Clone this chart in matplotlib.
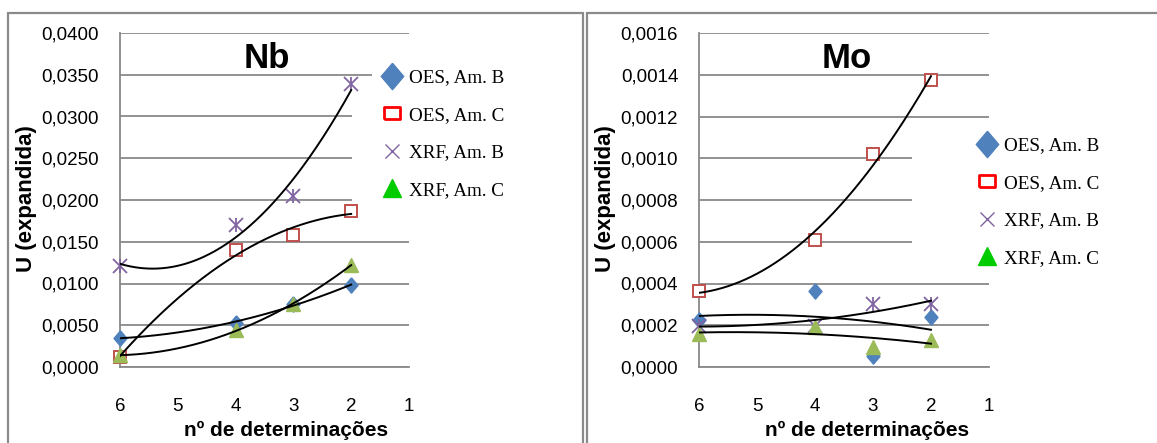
import numpy as np
import matplotlib
matplotlib.use("Agg")
import matplotlib.pyplot as plt
from matplotlib.lines import Line2D
from matplotlib.patches import Rectangle
from matplotlib.ticker import FuncFormatter, MultipleLocator

# ---------------- data ----------------
n_det = [6, 4, 3, 2]
series_names = ["OES, Am. B", "OES, Am. C", "XRF, Am. B", "XRF, Am. C"]

nb_oes_b = [0.00347, 0.00527, 0.00758, 0.00978]
nb_oes_c = [0.00120, 0.01405, 0.01580, 0.01868]
nb_xrf_b = [0.01210, 0.01705, 0.02048, 0.03393]
nb_xrf_c = [0.00140, 0.00440, 0.00750, 0.01225]

mo_oes_b = [0.000224, 0.000364, 0.000053, 0.000240]
mo_oes_c = [0.000362, 0.000610, 0.001020, 0.001373]
mo_xrf_b = [0.000198, 0.000198, 0.000300, 0.000304]
mo_xrf_c = [0.000160, 0.000190, 0.000096, 0.000128]

x_ticks = [6, 5, 4, 3, 2, 1]

# ---------------- style ----------------
W, H = 1157, 443
fig = plt.figure(figsize=(W / 100, H / 100), dpi=100)
SANS = "Liberation Sans"
SERIF = "Liberation Serif"
GRID = "#898989"

c_blue = "#4F81BD"
c_red = "#C0504D"
c_purple = "#8064A2"
c_green = "#9BBB59"

diamond = [(0, 1), (0.85, 0), (0, -1), (-0.85, 0), (0, 1)]
leg_square = [(-1, -0.7), (1, -0.7), (1, 0.7), (-1, 0.7), (-1, -0.7)]


def px_ax(x0, y0, x1, y1):
    return [x0 / W, 1 - y1 / H, (x1 - x0) / W, (y1 - y0) / H]


def fmt4(v, pos):
    return f"{v:.4f}".replace(".", ",")


def draw(ax, data, ymax, ystep, title, title_x, leg_x, leg_y, cover, xlab_x,
         ylab_x):
    ax.set_xlim(6, 1)
    ax.set_ylim(0, ymax)
    ax.yaxis.set_major_locator(MultipleLocator(ystep))
    ax.yaxis.set_major_formatter(FuncFormatter(fmt4))
    ax.set_xticks(x_ticks)
    ax.set_xticklabels([str(t) for t in x_ticks])
    ax.grid(axis="y", color=GRID, lw=1.3, zorder=0)
    ax.set_axisbelow(True)
    for s in ["top", "right"]:
        ax.spines[s].set_visible(False)
    for s in ["left", "bottom"]:
        ax.spines[s].set_color(GRID)
        ax.spines[s].set_linewidth(1.3)
    ax.tick_params(axis="both", length=0, labelsize=13.5)
    ax.tick_params(axis="y", pad=15)
    ax.tick_params(axis="x", pad=22)
    for lab in ax.get_xticklabels() + ax.get_yticklabels():
        lab.set_fontfamily(SANS)

    # white areas behind the legend (hide gridlines)
    for (x0, y0, w, h) in cover:
        ax.add_patch(Rectangle((x0, y0), w, h, transform=ax.transAxes,
                               facecolor="white", edgecolor="none", zorder=1,
                               clip_on=False))

    oes_b, oes_c, xrf_b, xrf_c = data
    xs = np.array(n_det, dtype=float)
    xf = np.linspace(6, 2, 200)
    for ys in (oes_b, oes_c, xrf_b, xrf_c):
        p = np.polyfit(xs, ys, 2)
        ax.plot(xf, np.polyval(p, xf), color="black", lw=1.4, zorder=4)

    kw = dict(linestyle="none", clip_on=False)
    ax.plot(n_det, oes_b, marker=diamond, ms=11, color=c_blue, mec=c_blue,
            zorder=3, **kw)
    ax.plot(n_det, oes_c, marker="s", ms=8.5, mfc="white", mec=c_red,
            mew=1.4, zorder=3, **kw)
    ax.plot(n_det, xrf_b, marker="x", ms=9.5, color=c_purple, mew=1.3,
            zorder=3, **kw)
    ax.plot(n_det, xrf_b, marker="|", ms=10.5, color=c_purple, mew=1.3,
            zorder=3, **kw)
    ax.plot(n_det, xrf_c, marker="^", ms=10, color=c_green, mec=c_green,
            zorder=3, **kw)

    handles = [
        Line2D([], [], linestyle="none", marker=diamond, ms=19, color=c_blue),
        Line2D([], [], linestyle="none", marker=leg_square, ms=12,
               mfc="white", mec="#FF0000", mew=2.0),
        Line2D([], [], linestyle="none", marker="x", ms=9.5, color=c_purple,
               mew=1.0),
        Line2D([], [], linestyle="none", marker="^", ms=13, color="#00CC00"),
    ]
    fig.legend(handles, series_names, loc="upper left",
               bbox_to_anchor=(leg_x / W, 1 - leg_y / H),
               frameon=False, handlelength=1.0, handletextpad=0.4,
               labelspacing=1.05, borderpad=0, borderaxespad=0,
               prop={"family": SERIF, "size": 13.8})

    fig.text(title_x / W, 1 - 58 / H, title, family=SANS, weight="bold",
             size=25, ha="center", va="center")
    fig.text(ylab_x / W, 1 - 199 / H, "U (expandida)", family=SANS,
             weight="bold", size=16, rotation=90, ha="center", va="center")
    fig.text(xlab_x / W, 1 - 430 / H, "nº de determinações", family=SANS,
             weight="bold", size=15, ha="center", va="center")


ax1 = fig.add_axes(px_ax(120, 33, 409, 367))
ax2 = fig.add_axes(px_ax(699, 33, 989, 367))

# cover rectangles in axes fractions (x0, y0, w, h)
nb_cover = [((352 - 120) / 289, (367 - 212) / 334, 0.3, (212 - 95) / 334),
            ((372 - 120) / 289, (367 - 95) / 334, 0.3, 30 / 334)]
mo_cover = [((912 - 699) / 290, (367 - 262) / 334, 0.3, (262 - 130) / 334)]

draw(ax1, (nb_oes_b, nb_oes_c, nb_xrf_b, nb_xrf_c), 0.04, 0.005, "Nb", 267,
     382, 69, nb_cover, 286, 27)
draw(ax2, (mo_oes_b, mo_oes_c, mo_xrf_b, mo_xrf_c), 0.0016, 0.0002, "Mo", 847,
     977, 137, mo_cover, 867, 606)


# chart borders
def border(x0, y0, x1, y1):
    fig.patches.append(Rectangle((x0 / W, 1 - y1 / H), (x1 - x0) / W,
                                 (y1 - y0) / H, transform=fig.transFigure,
                                 fill=False, edgecolor="#8a8a8a", lw=1.6,
                                 zorder=0))


border(8, 13, 582.5, 460)
border(587, 13, 1175, 460)

fig.savefig("out.png", dpi=100)
